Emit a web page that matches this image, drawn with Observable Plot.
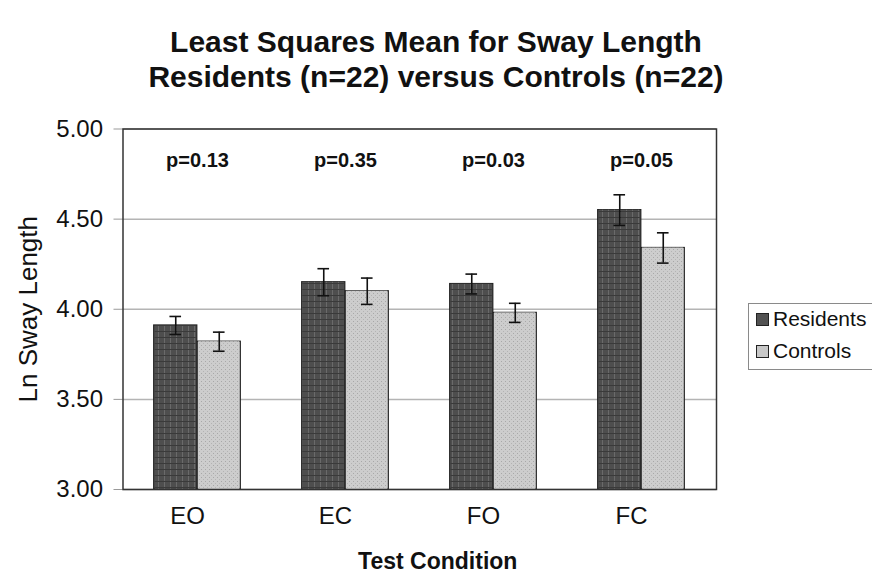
<!DOCTYPE html>
<html>
<head>
<meta charset="utf-8">
<script src="https://cdn.jsdelivr.net/npm/d3@7"></script>
<script src="https://cdn.jsdelivr.net/npm/@observablehq/plot@0.6"></script>
<style>
  html, body { margin: 0; padding: 0; background: #fff; overflow: hidden; }
  #wrap { position: relative; width: 872px; height: 583px; font-family: "Liberation Sans", Arial, sans-serif; color: #111; }
  #title { position: absolute; left: 0; top: 0; width: 872px; text-align: center; font-weight: bold; font-size: 30px; line-height: 35px; padding-top: 24px; }
  #chart { position: absolute; left: 0; top: 100px; }
  #legend { position: absolute; left: 748px; top: 303px; width: 140px; height: 67px; border: 1px solid #8a8a8a; background: #fff; box-sizing: border-box; }
  .item { position: absolute; left: 7px; display: flex; align-items: center; font-size: 21px; }
  .sw { width: 11px; height: 11px; border: 1px solid #222; margin-right: 4px; }
</style>
</head>
<body>
<div id="wrap">
  <div id="title">Least Squares Mean for Sway Length<br>Residents (n=22) versus Controls (n=22)</div>
  <div id="chart"></div>
  <div id="legend"></div>
</div>
<script>
const conditions = ["EO", "EC", "FO", "FC"];
const seriesNames = ["Residents", "Controls"];
const residents = [3.91, 4.15, 4.14, 4.55];
const residentsErr = [0.05, 0.075, 0.055, 0.085];
const controls = [3.82, 4.10, 3.98, 4.34];
const controlsErr = [0.053, 0.073, 0.053, 0.084];
const pValues = ["p=0.13", "p=0.35", "p=0.03", "p=0.05"];
const yTicks = [3.0, 3.5, 4.0, 4.5, 5.0];
const colors = ["#525252", "#c8c8c8"];

const rows = [];
conditions.forEach((c, i) => {
  rows.push({cond: c, series: "Residents", value: residents[i], err: residentsErr[i]});
  rows.push({cond: c, series: "Controls", value: controls[i], err: controlsErr[i]});
});
const pRows = conditions.map((c, i) => ({cond: c, p: pValues[i]}));

const W = 872, H = 483, mL = 122.5, mR = 156, mT = 28.5, mB = 94;
const band = (W - mL - mR) / conditions.length;
const barW = 43.5;
const capW = 12;
const side = band / 2 - barW;
const capInset = (band - capW) / 2;

const R = rows.filter(d => d.series === "Residents");
const C = rows.filter(d => d.series === "Controls");

const errStyle = {stroke: "#111", strokeWidth: 1.6};

const plot = Plot.plot({
  width: W, height: H,
  marginLeft: mL, marginRight: mR, marginTop: mT, marginBottom: mB,
  style: {fontFamily: "'Liberation Sans', Arial, sans-serif", color: "#111", background: "#fff"},
  x: {domain: conditions, padding: 0, label: null},
  y: {domain: [3, 5], label: null},
  color: {domain: seriesNames, range: colors},
  marks: [
    Plot.gridY(yTicks, {stroke: "#b4b4b4", strokeOpacity: 1, strokeWidth: 1.5}),
    Plot.barY(R, {x: "cond", y1: 3, y2: "value", fill: "series", stroke: "#222", strokeWidth: 1.2, insetLeft: side, insetRight: band / 2}),
    Plot.barY(C, {x: "cond", y1: 3, y2: "value", fill: "series", stroke: "#222", strokeWidth: 1.2, insetLeft: band / 2, insetRight: side}),
    Plot.barY(R, {x: "cond", y1: 3, y2: "value", fill: "url(#patR)", insetLeft: side + 1, insetRight: band / 2 + 1}),
    Plot.barY(C, {x: "cond", y1: 3, y2: "value", fill: "url(#patC)", insetLeft: band / 2 + 1, insetRight: side + 1}),
    Plot.ruleX(R, {x: "cond", y1: d => d.value - d.err, y2: d => d.value + d.err, dx: -barW / 2, ...errStyle}),
    Plot.ruleX(C, {x: "cond", y1: d => d.value - d.err, y2: d => d.value + d.err, dx: barW / 2, ...errStyle}),
    Plot.tickY(R, {x: "cond", y: d => d.value + d.err, dx: -barW / 2, insetLeft: capInset, insetRight: capInset, ...errStyle}),
    Plot.tickY(R, {x: "cond", y: d => d.value - d.err, dx: -barW / 2, insetLeft: capInset, insetRight: capInset, ...errStyle}),
    Plot.tickY(C, {x: "cond", y: d => d.value + d.err, dx: barW / 2, insetLeft: capInset, insetRight: capInset, ...errStyle}),
    Plot.tickY(C, {x: "cond", y: d => d.value - d.err, dx: barW / 2, insetLeft: capInset, insetRight: capInset, ...errStyle}),
    Plot.text(pRows, {x: "cond", text: "p", frameAnchor: "top", dy: 24, fontWeight: "bold", fontSize: 20, fill: "#111"}),
    Plot.axisY(yTicks, {tickFormat: d3.format(".2f"), tickSize: 9, tickPadding: 11, fontSize: 24, stroke: "#999", label: null}),
    Plot.axisX({tickSize: 0, tickPadding: 17, fontSize: 24, dx: -10, label: null}),
    Plot.frame({stroke: "#333", strokeWidth: 1.5}),
    Plot.text(["Ln Sway Length"], {frameAnchor: "left", textAnchor: "middle", dx: -94, rotate: -90, fontSize: 26, fill: "#111"}),
    Plot.text(["Test Condition"], {frameAnchor: "bottom", dy: 79, dx: 18, fontSize: 23, fontWeight: "bold", fill: "#111"})
  ]
});

// texture patterns for the bars
const svg = d3.select(plot);
const defs = svg.insert("defs", ":first-child");
const pR = defs.append("pattern").attr("id", "patR").attr("patternUnits", "userSpaceOnUse").attr("width", 6).attr("height", 6);
pR.append("rect").attr("width", 6).attr("height", 6).attr("fill", "#4e4e4e");
pR.append("rect").attr("x", 2).attr("width", 1).attr("height", 6).attr("fill", "#6a6a6a");
pR.append("rect").attr("y", 3).attr("width", 6).attr("height", 1).attr("fill", "#3a3a3a");
const pC = defs.append("pattern").attr("id", "patC").attr("patternUnits", "userSpaceOnUse").attr("width", 4).attr("height", 4);
pC.append("rect").attr("width", 4).attr("height", 4).attr("fill", "#cdcdcd");
pC.append("rect").attr("x", 1).attr("y", 1).attr("width", 1).attr("height", 1).attr("fill", "#a8a8a8");
pC.append("rect").attr("x", 3).attr("y", 3).attr("width", 1).attr("height", 1).attr("fill", "#b4b4b4");

document.getElementById("chart").appendChild(plot);

const leg = document.getElementById("legend");
seriesNames.forEach((s, i) => {
  const item = document.createElement("div");
  item.className = "item";
  item.style.top = (i === 0 ? 3 : 35) + "px";
  const sw = document.createElement("div");
  sw.className = "sw";
  sw.style.background = plot.scale("color").apply(s);
  const t = document.createElement("span");
  t.textContent = s;
  item.appendChild(sw);
  item.appendChild(t);
  leg.appendChild(item);
});
</script>
</body>
</html>
